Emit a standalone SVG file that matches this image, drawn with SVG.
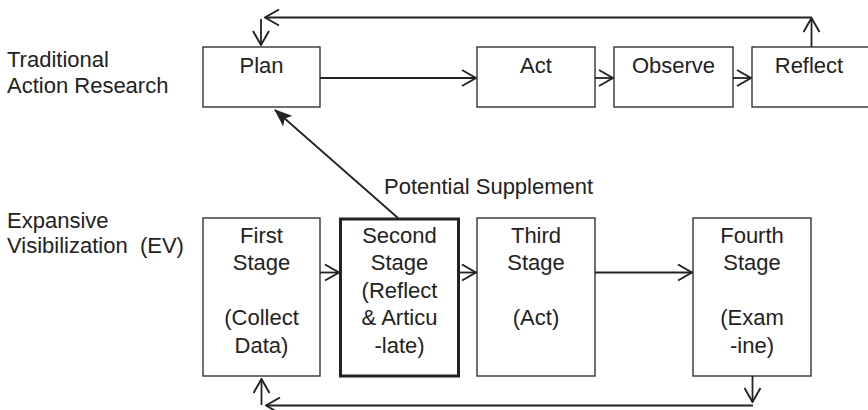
<svg xmlns="http://www.w3.org/2000/svg" width="868" height="410" viewBox="0 0 868 410">
<style>
.box{fill:#fff;stroke:#333;stroke-width:1.4}
.bold{stroke:#222;stroke-width:3}
text{font-family:"Liberation Sans",Arial,sans-serif;font-size:22px;fill:#222}
.c{text-anchor:middle}
.ln{fill:none;stroke:#222;stroke-width:1.8}
</style>
<defs>
<marker id="chev" viewBox="0 0 16 18" refX="15" refY="9" markerWidth="16" markerHeight="18" orient="auto" markerUnits="userSpaceOnUse">
<path d="M1,1 L15,9 L1,17" fill="none" stroke="#222" stroke-width="1.9"/>
</marker>
<marker id="solid" viewBox="0 0 18 14" refX="17" refY="7" markerWidth="18" markerHeight="14" orient="auto" markerUnits="userSpaceOnUse">
<path d="M0,0 L18,7 L0,14 L4,7 z" fill="#222"/>
</marker>
</defs>
<rect width="868" height="410" fill="#fff"/>
<g id="labels">
<text x="7" y="67">Traditional</text>
<text x="7" y="93">Action Research</text>
<text x="7" y="228">Expansive</text>
<text x="7" y="253">Visibilization&#160; (EV)</text>
<text x="384" y="194">Potential Supplement</text>
</g>
<g id="plan"><rect class="box" x="203" y="47" width="117" height="60"/><text class="c" x="261.5" y="73">Plan</text></g>
<g id="act"><rect class="box" x="477" y="47" width="118" height="60"/><text class="c" x="536" y="73">Act</text></g>
<g id="observe"><rect class="box" x="614" y="47" width="119" height="60"/><text class="c" x="673.5" y="73">Observe</text></g>
<g id="reflect"><rect class="box" x="752" y="47" width="130" height="60"/><text class="c" x="809" y="73">Reflect</text></g>
<g id="stage1"><rect class="box" x="203" y="218" width="117" height="158"/>
<text class="c" x="261.5" y="243">First</text><text class="c" x="261.5" y="270">Stage</text><text class="c" x="261.5" y="325">(Collect</text><text class="c" x="261.5" y="352.5">Data)</text></g>
<g id="stage2"><rect class="box bold" x="340.5" y="219" width="118" height="157"/>
<text class="c" x="399.5" y="243">Second</text><text class="c" x="399.5" y="270">Stage</text><text class="c" x="399.5" y="297.5">(Reflect</text><text class="c" x="399.5" y="325">&amp; Articu</text><text class="c" x="399.5" y="352.5">-late)</text></g>
<g id="stage3"><rect class="box" x="477" y="218" width="118" height="158"/>
<text class="c" x="536" y="243">Third</text><text class="c" x="536" y="270">Stage</text><text class="c" x="536" y="325">(Act)</text></g>
<g id="stage4"><rect class="box" x="693" y="218" width="118" height="158"/>
<text class="c" x="752" y="243">Fourth</text><text class="c" x="752" y="270">Stage</text><text class="c" x="752" y="325">(Exam</text><text class="c" x="752" y="352.5">-ine)</text></g>
<g id="connectors">
<line class="ln" x1="320" y1="78" x2="476" y2="78" marker-end="url(#chev)"/>
<line class="ln" x1="595" y1="78" x2="613" y2="78" marker-end="url(#chev)"/>
<line class="ln" x1="733" y1="78" x2="751" y2="78" marker-end="url(#chev)"/>
<line class="ln" x1="811.5" y1="47" x2="811.5" y2="18" marker-end="url(#chev)"/>
<line class="ln" x1="812" y1="17.5" x2="265" y2="17.5" marker-end="url(#chev)"/>
<line class="ln" x1="261" y1="19" x2="261" y2="45" marker-end="url(#chev)"/>
<line class="ln" x1="320" y1="272.5" x2="339" y2="272.5" marker-end="url(#chev)"/>
<line class="ln" x1="459" y1="272.5" x2="476" y2="272.5" marker-end="url(#chev)"/>
<line class="ln" x1="595" y1="272.5" x2="692" y2="272.5" marker-end="url(#chev)"/>
<line class="ln" x1="752.5" y1="376" x2="752.5" y2="402" marker-end="url(#chev)"/>
<line class="ln" x1="753" y1="405.5" x2="266" y2="405.5" marker-end="url(#chev)"/>
<line class="ln" x1="261.5" y1="405" x2="261.5" y2="379" marker-end="url(#chev)"/>
<line class="ln" x1="398" y1="218" x2="275" y2="110" stroke-width="2.4" marker-end="url(#solid)"/>
</g>
</svg>
